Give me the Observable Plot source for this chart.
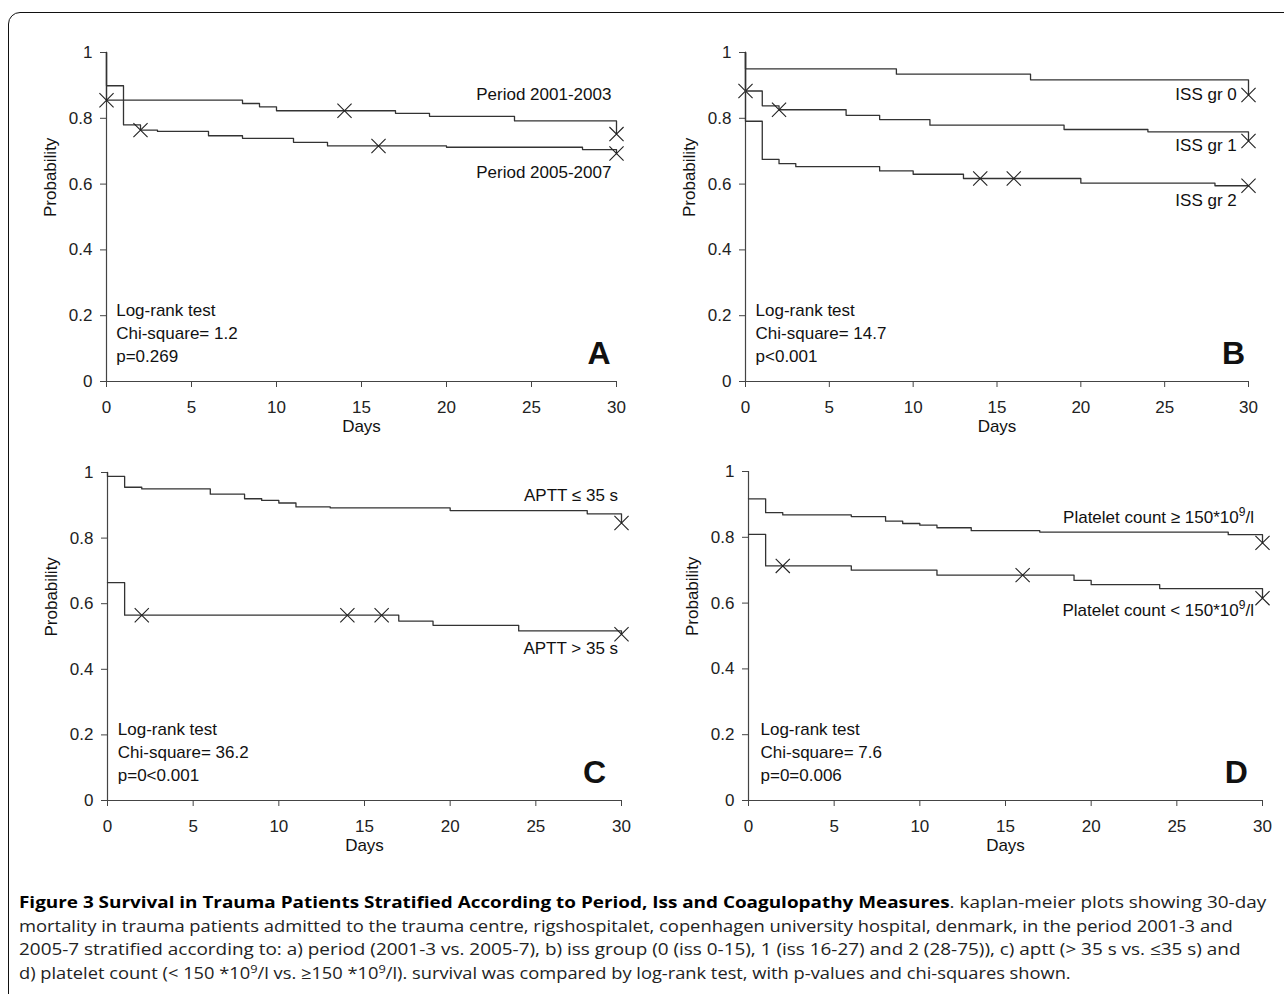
<!DOCTYPE html>
<html><head><meta charset="utf-8">
<script src="https://cdn.jsdelivr.net/npm/d3@7"></script>
<script src="https://cdn.jsdelivr.net/npm/@observablehq/plot@0.6"></script>
<style>
html,body{margin:0;padding:0;background:#fff;}
body{width:1284px;height:994px;overflow:hidden;position:relative;font-family:"Liberation Sans",Arial,sans-serif;}
#frame{position:absolute;left:8px;top:12px;width:1320px;height:1040px;border:1px solid #111;border-top-left-radius:12px;}
.panel{position:absolute;}
#caption{position:absolute;left:19px;top:890px;font-family:"Open Sans","Noto Sans",sans-serif;font-size:16.5px;line-height:23.5px;color:#222;white-space:nowrap;}
#caption .ln{display:inline-block;transform-origin:0 50%;}
#caption b{color:#000;}
#caption sup{font-size:0.7em;line-height:0;vertical-align:0.5em;}
</style></head><body>
<div id="frame"></div>
<div id="pA" class="panel"></div>
<div id="pB" class="panel"></div>
<div id="pC" class="panel"></div>
<div id="pD" class="panel"></div>
<div id="caption">
<div><span class="ln"><b>Figure 3 Survival in Trauma Patients Stratified According to Period, Iss and Coagulopathy Measures</b>. kaplan-meier plots showing 30-day</span></div>
<div><span class="ln">mortality in trauma patients admitted to the trauma centre, rigshospitalet, copenhagen university hospital, denmark, in the period 2001-3 and</span></div>
<div><span class="ln">2005-7 stratified according to: a) period (2001-3 vs. 2005-7), b) iss group (0 (iss 0-15), 1 (iss 16-27) and 2 (28-75)), c) aptt (&gt; 35 s vs. ≤35 s) and</span></div>
<div><span class="ln">d) platelet count (&lt; 150 *10<sup>9</sup>/l vs. ≥150 *10<sup>9</sup>/l). survival was compared by log-rank test, with p-values and chi-squares shown.</span></div>
</div>
<script>
const xTicks = [0, 5, 10, 15, 20, 25, 30];
const yTicks = [0, 0.2, 0.4, 0.6, 0.8, 1];

// Panel A: period
const daysA1 = [0, 0, 8, 9, 10, 17, 19, 24, 30];
const survA1 = [1, 0.855, 0.845, 0.835, 0.823, 0.815, 0.806, 0.792, 0.752];
const censDaysA1 = [0, 14, 30];
const censSurvA1 = [0.855, 0.823, 0.752];
const daysA2 = [0, 0, 1, 2, 3, 6, 8, 11, 13, 20, 28, 30];
const survA2 = [1, 0.899, 0.780, 0.764, 0.760, 0.747, 0.739, 0.727, 0.716, 0.712, 0.705, 0.693];
const censDaysA2 = [2, 16, 30];
const censSurvA2 = [0.764, 0.716, 0.693];
const labelsA = ["Period 2001-2003", "Period 2005-2007"];
const statsA = ["Log-rank test", "Chi-square= 1.2", "p=0.269"];

// Panel B: ISS group
const daysB0 = [0, 0, 9, 17, 30];
const survB0 = [1, 0.950, 0.934, 0.917, 0.871];
const censDaysB0 = [30];
const censSurvB0 = [0.871];
const daysB1 = [0, 0, 1, 2, 6, 8, 11, 19, 24, 30];
const survB1 = [1, 0.883, 0.838, 0.826, 0.809, 0.796, 0.779, 0.766, 0.759, 0.731];
const censDaysB1 = [0, 2, 30];
const censSurvB1 = [0.883, 0.826, 0.731];
const daysB2 = [0, 0, 1, 2, 3, 8, 10, 13, 20, 28, 30];
const survB2 = [1, 0.791, 0.675, 0.662, 0.653, 0.640, 0.630, 0.617, 0.603, 0.595, 0.595];
const censDaysB2 = [14, 16, 30];
const censSurvB2 = [0.617, 0.617, 0.595];
const labelsB = ["ISS gr 0", "ISS gr 1", "ISS gr 2"];
const statsB = ["Log-rank test", "Chi-square= 14.7", "p<0.001"];

// Panel C: APTT
const daysC1 = [0, 0, 1, 2, 6, 8, 9, 10, 11, 13, 20, 28, 30];
const survC1 = [1, 0.988, 0.955, 0.950, 0.934, 0.920, 0.915, 0.907, 0.895, 0.892, 0.884, 0.874, 0.846];
const censDaysC1 = [30];
const censSurvC1 = [0.846];
const daysC2 = [0, 1, 17, 19, 24, 30];
const survC2 = [0.664, 0.565, 0.547, 0.534, 0.517, 0.507];
const censDaysC2 = [2, 14, 16, 30];
const censSurvC2 = [0.565, 0.565, 0.565, 0.507];
const labelsC = ["APTT ≤ 35 s", "APTT > 35 s"];
const statsC = ["Log-rank test", "Chi-square= 36.2", "p=0<0.001"];

// Panel D: platelet count
const daysD1 = [0, 1, 2, 6, 8, 9, 10, 11, 13, 17, 28, 30];
const survD1 = [0.917, 0.875, 0.868, 0.863, 0.849, 0.842, 0.837, 0.829, 0.820, 0.816, 0.808, 0.783];
const censDaysD1 = [30];
const censSurvD1 = [0.783];
const daysD2 = [0, 1, 6, 11, 19, 20, 24, 30];
const survD2 = [0.809, 0.713, 0.700, 0.685, 0.669, 0.656, 0.644, 0.615];
const censDaysD2 = [2, 16, 30];
const censSurvD2 = [0.713, 0.685, 0.615];
const labelsD = ["Platelet count ≥ 150*10⁹/l", "Platelet count < 150*10⁹/l"];
const statsD = ["Log-rank test", "Chi-square= 7.6", "p=0=0.006"];

const FONT = '"Liberation Sans", Arial, sans-serif';
const pts = (days, surv) => days.map((d, i) => ({d, s: surv[i]}));

function panel(cfg) {
  const mL = 100, mT = 20, mR = cfg.mR, mB = 70;
  const statY = [0.217, 0.147, 0.077];
  const marks = [
    Plot.ruleX([0], {y1: 0, y2: 1, stroke: "#444", strokeWidth: 1.2}),
    Plot.ruleY([0], {x1: 0, x2: 30, stroke: "#444", strokeWidth: 1.2, insetLeft: -6}),
    Plot.axisY({ticks: yTicks, tickFormat: d => String(d), tickSize: 6, tickPadding: 8, label: null, stroke: "#444"}),
    Plot.axisX({ticks: xTicks, tickFormat: d => String(d), tickSize: 6, tickPadding: 13, label: null, stroke: "#444"}),
  ];
  for (const s of cfg.series) {
    marks.push(Plot.line(pts(s.days, s.surv), {x: "d", y: "s", curve: "step-after", stroke: "#333", strokeWidth: 1.3}));
    marks.push(Plot.dot(pts(s.cd, s.cs), {x: "d", y: "s", symbol: "times", r: 6.5, stroke: "#222", strokeWidth: 1.1}));
  }
  marks.push(Plot.text(cfg.labels, {x: () => cfg.labelX, y: (d, i) => cfg.labelY[i], text: d => d, textAnchor: "end", fontSize: 17, fill: "#111"}));
  marks.push(Plot.text(cfg.stats, {x: () => cfg.statsX, y: (d, i) => statY[i], text: d => d, textAnchor: "start", fontSize: 17, fill: "#111"}));
  marks.push(Plot.text([cfg.letter], {x: () => cfg.letterX, y: () => 0.085, text: d => d, textAnchor: "end", fontSize: 32, fontWeight: "bold", fill: "#111"}));
  marks.push(Plot.text(["Probability"], {frameAnchor: "left", dx: -56, rotate: -90, text: d => d, fontSize: 17, fill: "#111"}));
  marks.push(Plot.text(["Days"], {frameAnchor: "bottom", dy: 50, text: d => d, fontSize: 17, fill: "#111"}));
  const svg = Plot.plot({
    width: mL + cfg.plotW + mR, height: mT + cfg.plotH + mB,
    marginLeft: mL, marginTop: mT, marginRight: mR, marginBottom: mB,
    x: {domain: [0, 30]}, y: {domain: [0, 1]},
    style: {fontFamily: FONT, fontSize: "17px", color: "#222", background: "transparent", overflow: "visible", maxWidth: "none"},
    marks
  });
  // render the unicode superscript nine as a raised tspan
  svg.querySelectorAll("text").forEach(t => {
    const s = t.textContent;
    if (!s.includes("⁹")) return;
    const [pre, post] = s.split("⁹");
    while (t.firstChild) t.removeChild(t.firstChild);
    const ns = "http://www.w3.org/2000/svg";
    const a = document.createElementNS(ns, "tspan"); a.textContent = pre;
    const b = document.createElementNS(ns, "tspan"); b.textContent = "9";
    b.setAttribute("dy", "-7"); b.setAttribute("font-size", "12");
    const c = document.createElementNS(ns, "tspan"); c.textContent = post;
    c.setAttribute("dy", "7");
    t.append(a, b, c);
  });
  const el = document.getElementById(cfg.el);
  el.style.left = (cfg.axisX - mL) + "px";
  el.style.top = (cfg.axisTop - mT) + "px";
  el.appendChild(svg);
}

panel({el: "pA", axisX: 106, axisTop: 52, plotW: 510, plotH: 329, mR: 30,
  series: [{days: daysA1, surv: survA1, cd: censDaysA1, cs: censSurvA1}, {days: daysA2, surv: survA2, cd: censDaysA2, cs: censSurvA2}],
  labels: labelsA, labelX: 29.7, labelY: [0.873, 0.635], stats: statsA, statsX: 0.57, letter: "A", letterX: 29.65});
panel({el: "pB", axisX: 745, axisTop: 52, plotW: 503, plotH: 329, mR: 30,
  series: [{days: daysB0, surv: survB0, cd: censDaysB0, cs: censSurvB0}, {days: daysB1, surv: survB1, cd: censDaysB1, cs: censSurvB1}, {days: daysB2, surv: survB2, cd: censDaysB2, cs: censSurvB2}],
  labels: labelsB, labelX: 29.3, labelY: [0.871, 0.716, 0.55], stats: statsB, statsX: 0.6, letter: "B", letterX: 29.8});
panel({el: "pC", axisX: 107, axisTop: 472, plotW: 514, plotH: 328, mR: 30,
  series: [{days: daysC1, surv: survC1, cd: censDaysC1, cs: censSurvC1}, {days: daysC2, surv: survC2, cd: censDaysC2, cs: censSurvC2}],
  labels: labelsC, labelX: 29.8, labelY: [0.929, 0.463], stats: statsC, statsX: 0.6, letter: "C", letterX: 29.1});
panel({el: "pD", axisX: 748, axisTop: 471, plotW: 514, plotH: 329, mR: 20,
  series: [{days: daysD1, surv: survD1, cd: censDaysD1, cs: censSurvD1}, {days: daysD2, surv: survD2, cd: censDaysD2, cs: censSurvD2}],
  labels: labelsD, labelX: 29.5, labelY: [0.86, 0.578], stats: statsD, statsX: 0.7, letter: "D", letterX: 29.15});

function fitCaption() {
  const targets = [1247, 1214, 1221, 1052];
  document.querySelectorAll("#caption .ln").forEach((ln, i) => {
    const w = ln.offsetWidth;
    if (w > 0) ln.style.transform = `scaleX(${targets[i] / w})`;
  });
}
fitCaption();
if (document.fonts && document.fonts.ready) document.fonts.ready.then(fitCaption);
</script>
</body></html>
